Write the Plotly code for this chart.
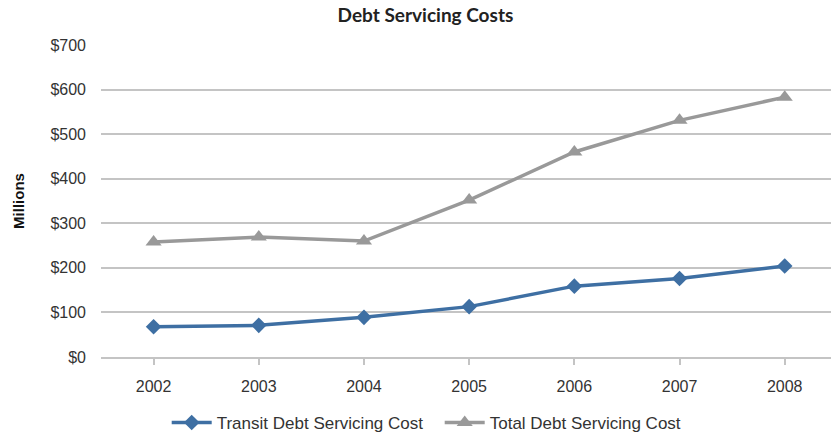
import plotly.graph_objects as go

years = ["2002", "2003", "2004", "2005", "2006", "2007", "2008"]
transit_cost = [68, 71, 89, 113, 159, 176, 204]
total_cost = [258, 269, 260, 352, 460, 531, 583]
y_ticks = [0, 100, 200, 300, 400, 500, 600, 700]
y_tick_text = ["$0", "$100", "$200", "$300", "$400", "$500", "$600", "$700"]

BLUE = "#3E6FA3"
GRAY = "#999999"
GRID = "#C4C4C4"
TEXT = "#333333"

fig = go.Figure()
fig.add_trace(go.Scatter(
    x=list(range(len(years))), y=transit_cost, mode="lines+markers",
    name="Transit Debt Servicing Cost",
    line=dict(color=BLUE, width=3.5),
    marker=dict(symbol="diamond", size=12, color=BLUE),
))
fig.add_trace(go.Scatter(
    x=list(range(len(years))), y=total_cost, mode="lines+markers",
    name="Total Debt Servicing Cost",
    line=dict(color=GRAY, width=3.5),
    marker=dict(symbol="triangle-up", size=14, color=GRAY),
))

fig.update_layout(
    width=831, height=441,
    margin=dict(l=101, r=0, t=45, b=84),
    paper_bgcolor="white", plot_bgcolor="white",
    font=dict(family="Liberation Sans, Arial, sans-serif", size=16, color=TEXT),
    title=dict(
        text="<b>Debt Servicing Costs</b>",
        x=0.512, xanchor="center", y=0.966, yanchor="middle",
        font=dict(family="Lato, sans-serif", size=19, color="#222222"),
    ),
    showlegend=True,
    legend=dict(
        orientation="h", x=0.09, xanchor="left", y=-0.212, yanchor="middle",
        font=dict(size=17, color=TEXT), itemwidth=40, tracegroupgap=0,
        entrywidth=218,
    ),
    xaxis=dict(
        range=[-0.5, 6.44],
        tickmode="array", tickvals=list(range(len(years))), ticktext=years,
        tickson="boundaries", ticks="outside", ticklen=6, tickwidth=2, tickcolor=GRID,
        showline=True, linecolor=GRID, linewidth=2,
        showgrid=False, zeroline=False, ticklabelstandoff=8,
        fixedrange=True,
    ),
    yaxis=dict(
        range=[0, 700],
        tickmode="array", tickvals=y_ticks, ticktext=y_tick_text,
        showgrid=True, gridcolor=GRID, gridwidth=2,
        zeroline=False, showline=False, ticks="", ticklabelstandoff=14,
        title=dict(text="<b>Millions</b>", standoff=22,
                   font=dict(size=15, color="#111111")),
        fixedrange=True,
    ),
)

fig.write_html("out.html")
